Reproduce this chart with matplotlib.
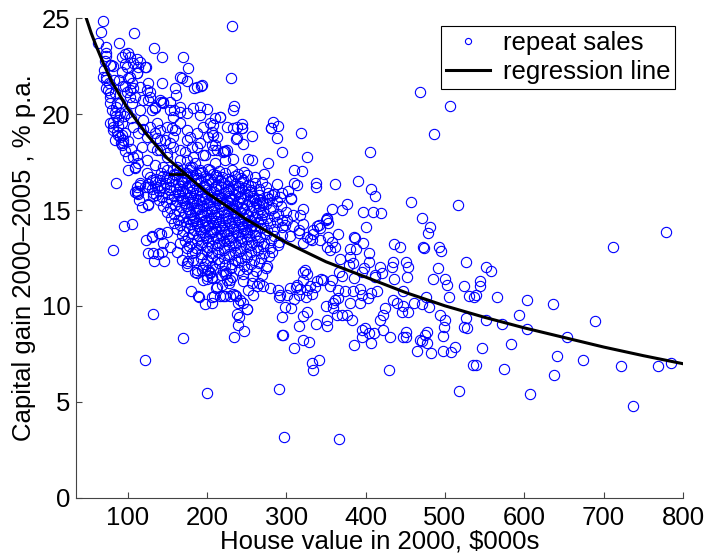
import numpy as np
import matplotlib
matplotlib.use("Agg")
import matplotlib.pyplot as plt

plt.rcParams['font.family'] = ['Liberation Sans', 'DejaVu Sans']

# scatter points (house value $000s, capital gain % p.a.)
upper_left = [
    (69.6, 24.86), (66.3, 24.3), (63.3, 23.73), (72.6, 23.52), (73.4, 23.17), (72.6, 23.03),
    (71.3, 22.77), (77.6, 22.56), (89.0, 23.73), (107.9, 24.22), (133.2, 23.47), (143.7, 23.0),
    (169.3, 22.96), (176.5, 22.39), (166.0, 21.92), (174.4, 21.73), (184.1, 21.35), (192.5, 21.47),
    (159.7, 21.35), (160.9, 21.0), (143.7, 21.61), (96.6, 23.12), (100.8, 23.21), (92.4, 23.0),
    (102.9, 23.0), (111.3, 22.86), (107.1, 22.65), (98.7, 22.48), (113.4, 22.48), (121.8, 22.48),
    (112.1, 22.16), (81.8, 22.51), (89.4, 21.78), (69.2, 21.96), (73.4, 21.78), (72.6, 21.35),
    (77.6, 20.91), (75.5, 21.26), (99.9, 21.87), (105.0, 21.61), (96.6, 21.47), (106.3, 21.35),
    (109.2, 20.91), (102.9, 20.91), (98.7, 21.17), (126.0, 21.61), (123.9, 21.26), (118.9, 20.74),
    (125.2, 20.74), (134.4, 20.31), (130.2, 20.22), (142.4, 20.65),
]

left_band = [
    (86.0, 20.39), (90.3, 20.04), (81.8, 19.61), (88.1, 19.38), (77.6, 19.52), (81.8, 19.18),
    (88.1, 18.91), (84.0, 18.65), (91.1, 18.48), (94.5, 18.52), (92.4, 18.91), (86.0, 16.39),
    (100.8, 17.79), (111.3, 17.87), (113.4, 17.44), (109.2, 17.18), (111.3, 16.22), (115.5, 16.39),
    (109.2, 15.96), (114.6, 15.53), (125.2, 15.3), (79.7, 22.57), (96.6, 22.62), (115.5, 22.74),
    (123.1, 22.44), (102.9, 21.96), (111.3, 22.13), (92.4, 22.22), (94.5, 21.47), (102.9, 21.26),
    (115.5, 21.44), (128.1, 21.18), (128.1, 20.91), (140.7, 20.74), (134.4, 20.39), (144.1, 20.65),
    (153.4, 20.65), (168.1, 21.87), (187.0, 21.44), (193.3, 21.52), (200.5, 20.25), (166.0, 20.13),
    (174.4, 20.04), (191.2, 19.96), (73.4, 21.96), (77.6, 21.09), (84.0, 21.09), (86.1, 20.57),
    (90.3, 20.57), (84.0, 20.04), (88.2, 19.70), (92.4, 19.52), (81.9, 19.35), (86.1, 19.09),
    (90.3, 18.83), (94.5, 18.65), (92.4, 18.39), (107.1, 19.35), (98.7, 20.04), (105.0, 20.57),
    (115.5, 20.22), (119.7, 19.70), (107.1, 17.78), (109.2, 17.26), (100.8, 17.09), (115.5, 16.31),
    (111.3, 15.87), (126.0, 16.22), (132.3, 15.87),
    (70, 22.3), (76, 21.6), (80, 20.2), (83, 21.8), (78, 20.6), (85, 19.9), (95, 19.9),
    (97, 19.0), (101, 18.6), (104, 19.8), (97, 18.1), (104, 18.2), (113, 19.0), (118, 18.3),
    (120, 19.2),
]

mid_band = [
    (158.8, 20.22), (166.0, 20.39), (182.8, 20.31), (191.2, 20.39), (210.1, 19.78), (216.5, 19.87),
    (208.0, 19.44), (206.0, 19.09), (212.3, 18.83), (224.9, 19.35), (233.3, 20.22), (237.5, 19.35),
    (208.0, 18.13), (224.9, 18.13), (222.8, 17.61), (210.1, 17.44), (191.2, 18.48), (180.7, 18.31),
    (174.4, 18.65), (172.3, 18.05), (195.4, 17.87), (184.9, 17.44), (191.2, 17.09), (166.0, 17.61),
    (136.5, 19.52), (140.7, 19.18), (149.2, 19.35), (155.5, 19.26), (136.5, 18.74), (147.0, 18.65),
    (157.6, 18.83), (130.2, 18.31), (140.7, 18.13), (149.2, 17.96), (157.6, 18.31), (123.9, 17.61),
    (134.4, 17.35), (145.0, 17.26), (157.6, 17.09), (123.9, 16.92), (130.2, 16.57), (121.8, 16.22),
    (136.5, 16.22), (140.7, 16.57), (149.2, 16.74), (153.4, 16.22), (168.1, 16.48), (174.4, 16.92),
    (180.7, 17.26), (145.0, 20.57), (153.4, 20.22), (157.6, 19.87), (166.0, 19.52), (159.7, 19.18),
    (174.4, 19.18), (178.6, 18.83), (187.0, 19.0), (195.4, 19.35), (203.9, 19.52), (201.8, 18.83),
    (206.0, 18.39), (212.3, 18.13), (197.5, 17.87), (187.0, 18.31), (182.8, 17.79), (174.4, 17.61),
    (166.0, 18.13), (153.4, 18.48), (140.7, 18.65), (134.4, 19.0), (128.1, 19.35), (123.9, 18.83),
    (136.5, 18.13), (149.2, 17.79), (161.8, 17.26), (178.6, 17.26), (191.2, 16.92), (203.9, 17.09),
    (212.3, 16.74),
]

upper_right = [
    (232.0, 24.58), (230.4, 21.9), (234.5, 20.4), (233.3, 19.3), (244.6, 19.5), (244.6, 19.3),
    (237.5, 18.74), (245.9, 18.45), (256.9, 18.86), (283.8, 19.58), (280.5, 19.3), (290.0, 19.4),
    (288.8, 18.77), (319.1, 19.0), (295.1, 18.04), (326.7, 17.77), (221.5, 18.1), (223.2, 18.1),
    (252.2, 17.65), (256.5, 17.6), (276.7, 17.45), (233.3, 17.65), (272.4, 16.9), (309.5, 17.1),
    (320.4, 17.05), (288.8, 16.38), (309.9, 16.43), (313.7, 16.3), (337.3, 16.4), (337.3, 16.2),
    (362.0, 16.38), (390.6, 16.53), (405.4, 18.04), (406.7, 16.12), (412.1, 15.75), (468.5, 21.14),
    (505.9, 20.44), (485.7, 18.98), (456.7, 15.4), (515.9, 15.27), (471.4, 14.57), (302.7, 16.0),
    (306.1, 15.58), (292.2, 15.7), (294.3, 15.88), (276.7, 15.9), (281.7, 15.79), (358.2, 15.04),
    (370.1, 15.0), (376.8, 15.3), (396.1, 14.88), (409.2, 14.88), (419.3, 14.83), (351.9, 14.57),
    (320.8, 15.04), (317.4, 14.74), (309.0, 14.74), (267.0, 15.53), (270.4, 15.35), (216.4, 19.87),
    (208.0, 18.92), (243.8, 19.26), (236.6, 18.69), (280.4, 19.26), (220.7, 18.05), (210.1, 18.39),
    (305.6, 15.61), (350.2, 14.48), (339.3, 14.17), (334.2, 13.75), (342.7, 13.44), (330.0, 13.48),
    (321.6, 13.27), (300.6, 14.48), (309.0, 14.14), (316.6, 13.96), (304.8, 13.65),
]

right_side = [
    (351.1, 14.53), (352.0, 14.31), (341.0, 14.22), (342.7, 14.05), (333.5, 13.96), (321.7, 14.27),
    (316.6, 13.79), (325.9, 13.61), (332.2, 13.44), (364.6, 13.74), (353.2, 13.61), (357.4, 13.35),
    (351.1, 13.09), (361.6, 13.09), (355.3, 12.92), (384.8, 13.61), (386.9, 13.53), (396.6, 13.27),
    (379.7, 12.95), (388.1, 12.97), (403.7, 12.78), (403.7, 12.31), (436.1, 13.23), (443.7, 13.09),
    (471.9, 13.09), (473.1, 13.01), (492.1, 13.09), (495.0, 12.88), (491.2, 11.97), (484.9, 11.39),
    (481.5, 14.10), (479.0, 13.82), (399.9, 14.13), (450.8, 12.31), (453.3, 12.05), (452.1, 11.48),
    (434.8, 12.31), (433.2, 12.05), (418.4, 12.05), (420.5, 11.70), (411.3, 11.62), (412.1, 11.49),
    (436.1, 11.39), (397.4, 11.96), (395.3, 11.79), (380.6, 12.57), (383.9, 12.22), (378.5, 12.14),
    (367.1, 12.43), (384.8, 11.44), (366.7, 11.74), (370.1, 11.56), (357.4, 11.35), (355.3, 11.01),
    (343.5, 11.39), (338.5, 11.27), (346.9, 11.35), (330.1, 11.01), (326.7, 10.83), (336.4, 10.97),
    (323.8, 11.88), (325.9, 11.67), (321.7, 11.79), (320.8, 11.36), (314.1, 11.09), (317.5, 10.87),
    (333.0, 10.61), (365.8, 10.83), (374.3, 10.75), (383.9, 10.80), (393.2, 10.87), (395.3, 10.57),
    (406.7, 10.66), (402.9, 10.40), (393.2, 10.14), (380.6, 10.14), (365.8, 10.40), (361.6, 10.31),
    (359.5, 10.14), (350.3, 10.0), (358.7, 9.88), (414.2, 10.75), (423.9, 9.88), (422.2, 9.53),
    (418.4, 9.27), (434.0, 10.31), (439.5, 10.14), (447.0, 10.0), (445.8, 9.70), (452.9, 9.70),
    (460.5, 10.17), (475.6, 10.45), (479.4, 9.93), (470.6, 10.07), (447.0, 10.75), (468.1, 8.23),
    (475.2, 8.49), (477.3, 8.66), (471.0, 8.14), (477.3, 8.05), (482.8, 7.53), (464.7, 7.62),
    (450.4, 8.66), (450.4, 8.40), (447.0, 8.40), (430.6, 8.35), (421.8, 8.75), (395.3, 8.75),
    (399.5, 8.84), (403.7, 8.57), (410.0, 8.57), (407.1, 8.05), (395.3, 8.37), (385.6, 7.97),
    (429.0, 6.66), (382.7, 9.27), (376.4, 9.53), (370.1, 9.53), (363.7, 9.53), (351.1, 9.27),
    (351.1, 8.96), (337.7, 9.06), (325.9, 9.70), (321.7, 9.48), (316.6, 8.96), (305.7, 9.88),
    (298.5, 9.93), (294.3, 9.44), (294.3, 8.49), (296.4, 8.49), (321.7, 8.23), (329.2, 8.09),
    (309.9, 7.79), (341.0, 7.18), (332.2, 7.01), (334.3, 6.63), (291.4, 5.67), (240.9, 9.44),
    (239.6, 9.01), (247.2, 8.71), (234.2, 8.40), (250.2, 9.82), (271.2, 11.01), (279.6, 10.92),
    (290.1, 10.83), (292.2, 10.57), (291.4, 10.45), (300.6, 10.57), (304.8, 10.92), (312.4, 10.97),
    (315.8, 10.57), (325.0, 10.45), (309.9, 10.35), (241.7, 10.31), (245.9, 10.17), (251.0, 9.84),
    (236.7, 10.49), (229.1, 10.49), (220.7, 10.49), (233.3, 10.62), (222.8, 11.67), (229.1, 11.36),
    (218.6, 11.09), (262.8, 11.01), (256.5, 11.18), (252.3, 10.83), (258.6, 10.57), (297.3, 3.15),
    (366.7, 3.05),
]

far_right = [
    (778.1, 13.86), (712.0, 13.09), (526.9, 12.28), (551.3, 12.02), (558.0, 11.84), (500.4, 11.39),
    (502.5, 11.09), (523.5, 11.06), (543.7, 11.30), (543.7, 11.04), (504.6, 10.45), (530.3, 10.50),
    (536.2, 10.45), (538.7, 10.57), (565.2, 10.45), (603.1, 10.31), (635.9, 10.07), (494.0, 9.50),
    (500.4, 9.27), (498.3, 8.92), (497.5, 8.43), (526.9, 9.39), (523.5, 8.87), (527.8, 8.85),
    (552.2, 9.27), (571.5, 9.03), (593.8, 9.51), (603.1, 8.80), (689.3, 9.23), (654.4, 8.35),
    (497.5, 7.62), (507.1, 7.57), (513.0, 7.86), (546.7, 7.81), (583.7, 8.0), (534.9, 6.89),
    (539.1, 6.91), (574.0, 6.71), (640.9, 7.36), (673.7, 7.17), (721.3, 6.87), (768.8, 6.87),
    (784.4, 7.01), (637.1, 6.38), (517.2, 5.58), (607.7, 5.41), (737.3, 4.75),
]

lower_left = [
    (81.8, 12.92), (95.3, 14.19), (105.8, 14.27), (117.6, 15.18), (125.2, 15.28), (122.6, 13.41),
    (131.1, 13.61), (125.2, 12.78), (132.3, 12.74), (138.6, 12.71), (142.8, 12.83), (133.6, 12.36),
    (145.8, 12.35), (145.0, 13.27), (139.9, 13.79), (149.1, 13.87), (153.4, 13.09), (166.0, 13.27),
    (174.4, 13.01), (168.1, 12.40), (174.4, 12.22), (182.8, 12.40), (180.7, 12.74), (161.8, 12.83),
    (187.0, 11.70), (193.3, 11.88), (203.8, 11.79), (199.6, 11.56), (205.9, 11.53), (195.4, 11.35),
    (179.9, 10.75), (189.9, 10.48), (211.4, 10.95), (197.5, 10.10), (206.0, 10.45), (216.5, 10.49),
    (132.3, 9.58), (170.2, 8.31), (121.8, 7.18), (199.6, 5.45), (113.5, 15.84), (111.4, 15.99),
    (131.6, 15.73), (141.6, 13.75), (130.7, 13.65), (176.6, 12.34), (175.3, 12.08), (187.9, 11.88),
    (185.0, 11.79), (195.5, 12.02), (201.8, 11.88), (203.9, 11.70), (199.7, 11.39), (206.0, 11.44),
    (224.1, 11.70), (225.8, 11.35), (212.3, 10.97), (222.8, 10.52), (235.5, 10.57), (239.7, 10.17),
    (209.0, 10.52), (206.0, 10.14), (189.2, 10.52), (238.4, 9.58),
]

# the saturated core, estimated
core = [
    (142, 16.95), (150, 17.1), (158, 16.9), (165, 17.05), (172, 16.95), (179, 17.1), (186, 16.9),
    (194, 17.0), (201, 17.15), (208, 16.9), (215, 17.05), (223, 16.95), (231, 17.1), (239, 16.9),
    (247, 17.0),
    (128, 16.7), (136, 16.6), (145, 16.75), (152, 16.65), (160, 16.8), (167, 16.6), (175, 16.7),
    (182, 16.8), (189, 16.65), (197, 16.75), (204, 16.6), (212, 16.8), (219, 16.7), (227, 16.6),
    (235, 16.75), (243, 16.65), (251, 16.8), (260, 16.7),
    (126, 16.35), (134, 16.45), (141, 16.3), (149, 16.4), (156, 16.5), (163, 16.35), (170, 16.45),
    (178, 16.3), (185, 16.4), (192, 16.5), (199, 16.35), (207, 16.45), (214, 16.3), (222, 16.4),
    (229, 16.5), (236, 16.35), (244, 16.45), (252, 16.3), (261, 16.4), (270, 16.45),
    (131, 16.1), (139, 16.0), (146, 16.15), (153, 16.05), (161, 16.1), (168, 16.0), (175, 16.15),
    (183, 16.05), (190, 16.1), (197, 16.2), (204, 16.0), (211, 16.1), (218, 16.2), (226, 16.05),
    (233, 16.1), (241, 16.0), (248, 16.15), (256, 16.05), (265, 16.1), (274, 16.2),
    (136, 15.8), (144, 15.7), (151, 15.85), (158, 15.75), (165, 15.8), (172, 15.9), (179, 15.7),
    (186, 15.8), (193, 15.75), (200, 15.85), (207, 15.7), (214, 15.8), (221, 15.9), (228, 15.75),
    (235, 15.8), (242, 15.7), (250, 15.85), (258, 15.75), (266, 15.8), (276, 15.7), (285, 15.85),
    (140, 15.5), (148, 15.4), (155, 15.55), (162, 15.45), (169, 15.5), (176, 15.6), (183, 15.4),
    (190, 15.5), (197, 15.55), (204, 15.4), (211, 15.5), (218, 15.6), (225, 15.45), (232, 15.5),
    (239, 15.4), (246, 15.55), (253, 15.45), (261, 15.5), (269, 15.4), (278, 15.55), (288, 15.45),
    (145, 15.2), (153, 15.1), (160, 15.25), (167, 15.15), (174, 15.2), (181, 15.3), (188, 15.1),
    (195, 15.2), (202, 15.25), (209, 15.1), (216, 15.2), (223, 15.3), (230, 15.15), (237, 15.2),
    (244, 15.1), (251, 15.25), (258, 15.15), (266, 15.2), (274, 15.3), (283, 15.1), (293, 15.2),
    (150, 14.9), (158, 14.8), (165, 14.95), (172, 14.85), (179, 14.9), (186, 15.0), (193, 14.8),
    (200, 14.9), (207, 14.95), (214, 14.8), (221, 14.9), (228, 15.0), (235, 14.85), (242, 14.9),
    (249, 14.8), (256, 14.95), (263, 14.85), (271, 14.9), (280, 15.0), (290, 14.8), (300, 14.9),
    (155, 14.6), (163, 14.5), (170, 14.65), (177, 14.55), (184, 14.6), (191, 14.7), (198, 14.5),
    (205, 14.6), (212, 14.65), (219, 14.5), (226, 14.6), (233, 14.7), (240, 14.55), (247, 14.6),
    (254, 14.5), (261, 14.65), (268, 14.55), (276, 14.6), (285, 14.7), (295, 14.5),
    (158, 14.3), (166, 14.2), (173, 14.35), (180, 14.25), (187, 14.3), (194, 14.4), (201, 14.2),
    (208, 14.3), (215, 14.35), (222, 14.2), (229, 14.3), (236, 14.4), (243, 14.25), (250, 14.3),
    (257, 14.2), (264, 14.35), (271, 14.25), (279, 14.3), (288, 14.4), (298, 14.2),
    (162, 14.0), (170, 13.9), (177, 14.05), (184, 13.95), (191, 14.0), (198, 14.1), (205, 13.9),
    (212, 14.0), (219, 14.05), (226, 13.9), (233, 14.0), (240, 14.1), (247, 13.95), (254, 14.0),
    (261, 13.9), (268, 14.05), (276, 13.95), (285, 14.0), (295, 14.1),
    (168, 13.7), (176, 13.6), (183, 13.75), (190, 13.65), (197, 13.7), (204, 13.8), (211, 13.6),
    (218, 13.7), (225, 13.75), (232, 13.6), (239, 13.7), (246, 13.8), (253, 13.65), (260, 13.7),
    (267, 13.6), (275, 13.75), (284, 13.65), (294, 13.7),
    (172, 13.4), (180, 13.3), (187, 13.45), (194, 13.35), (201, 13.4), (208, 13.5), (215, 13.3),
    (222, 13.4), (229, 13.45), (236, 13.3), (243, 13.4), (250, 13.5), (257, 13.35), (264, 13.4),
    (272, 13.3), (281, 13.45), (291, 13.35),
    (178, 13.1), (186, 13.0), (193, 13.15), (200, 13.05), (207, 13.1), (214, 13.2), (221, 13.0),
    (228, 13.1), (235, 13.15), (242, 13.0), (249, 13.1), (256, 13.2), (263, 13.05), (271, 13.1),
    (280, 13.0), (290, 13.15),
    (185, 12.8), (193, 12.7), (200, 12.85), (207, 12.75), (214, 12.8), (221, 12.9), (228, 12.7),
    (235, 12.8), (242, 12.85), (249, 12.7), (256, 12.8), (264, 12.9), (272, 12.75), (282, 12.8),
    (192, 12.5), (200, 12.4), (207, 12.55), (214, 12.45), (221, 12.5), (228, 12.6), (236, 12.4),
    (243, 12.5), (251, 12.55), (259, 12.4), (268, 12.5), (278, 12.6),
    (198, 12.2), (207, 12.1), (215, 12.25), (223, 12.15), (231, 12.2), (239, 12.3), (247, 12.1),
    (256, 12.2), (266, 12.25), (276, 12.1),
    (210, 11.9), (220, 11.8), (230, 11.95), (240, 11.85), (250, 11.9), (262, 11.8), (274, 11.95),
    (218, 11.6), (232, 11.5), (245, 11.65), (258, 11.55), (270, 11.6),
    (228, 11.2), (246, 11.3), (265, 11.2),
]

# extra points filling the densest part of the core
core_fill = [
    (171, 16.55), (186, 16.55), (201, 16.55), (216, 16.55), (231, 16.55), (246, 16.55),
    (166, 16.25), (181, 16.25), (196, 16.25), (211, 16.25), (226, 16.25), (241, 16.25), (256, 16.25),
    (164, 15.95), (179, 15.95), (194, 15.95), (209, 15.95), (224, 15.95), (239, 15.95), (254, 15.95),
    (168, 15.65), (183, 15.65), (198, 15.65), (213, 15.65), (228, 15.65), (243, 15.65), (258, 15.65),
    (172, 15.35), (187, 15.35), (200, 15.35), (215, 15.35), (229, 15.35), (244, 15.35), (262, 15.35),
    (176, 15.05), (190, 15.05), (205, 15.05), (219, 15.05), (233, 15.05), (247, 15.05), (265, 15.05),
    (180, 14.75), (195, 14.75), (209, 14.75), (224, 14.75), (238, 14.75), (252, 14.75), (270, 14.75),
    (183, 14.45), (198, 14.45), (212, 14.45), (227, 14.45), (241, 14.45), (256, 14.45),
    (187, 14.15), (201, 14.15), (216, 14.15), (231, 14.15), (246, 14.15), (260, 14.15),
    (193, 13.85), (208, 13.85), (222, 13.85), (237, 13.85), (251, 13.85),
    (199, 13.55), (214, 13.55), (228, 13.55), (243, 13.55),
]

# regression curve
reg_x = [48, 54, 60, 70, 80, 90, 100, 125, 150, 175, 200, 250, 300, 350, 400, 450, 500,
         550, 600, 650, 700, 750, 800]
reg_y = [25.0, 24.25, 23.6, 22.6, 21.7, 21.0, 20.3, 18.9, 17.7, 16.8, 15.9, 14.5, 13.3,
         12.3, 11.5, 10.7, 10.0, 9.4, 8.85, 8.35, 7.85, 7.4, 6.98]

pts = np.array(upper_left + left_band + mid_band + upper_right + right_side
               + far_right + lower_left + core + core_fill)
house_value = pts[:, 0]
capital_gain = pts[:, 1]

fig = plt.figure(figsize=(7.07, 5.57), dpi=100)
ax = fig.add_axes([0.1075, 0.1068, 0.8586, 0.8603])

ax.plot(house_value, capital_gain, 'o', mfc='none', mec=(0, 0, 1), ms=7.4, mew=0.8,
        label='repeat sales', clip_on=False, zorder=2)
ax.plot(reg_x, reg_y, '-', color='k', lw=2.2, label='regression line', zorder=3)
ax.plot([153, 172], [16.86, 16.86], '-', color='k', lw=2.0, zorder=3)

ax.set_xlim(35, 800)
ax.set_ylim(0, 25)
ax.set_xticks(range(100, 801, 100))
ax.set_yticks(range(0, 26, 5))

for s in ['top', 'right']:
    ax.spines[s].set_visible(False)
for s in ['left', 'bottom']:
    ax.spines[s].set_color('#444444')
    ax.spines[s].set_linewidth(0.8)

ax.tick_params(direction='in', length=4.5, width=0.8, color='#444444', labelsize=18.5)
ax.tick_params(axis='x', pad=6)
ax.tick_params(axis='y', pad=4)

ax.set_xlabel('House value in 2000, $000s', fontsize=18.5, labelpad=0)
ax.set_ylabel('Capital gain 2000\u20132005 , % p.a.', fontsize=18.5, labelpad=4)

leg = ax.legend(loc='upper right', fontsize=18.5, frameon=True, fancybox=False,
                edgecolor='k', framealpha=1, borderaxespad=0.3, borderpad=0.2,
                labelspacing=0.2, handlelength=1.7, handletextpad=0.5, markerscale=0.6)
leg.get_frame().set_linewidth(0.8)

fig.savefig('out.png', dpi=100)
